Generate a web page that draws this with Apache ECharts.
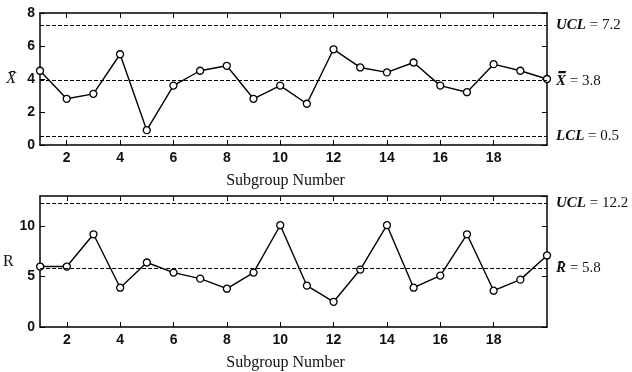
<!DOCTYPE html>
<html>
<head>
<meta charset="utf-8">
<script src="https://cdn.jsdelivr.net/npm/echarts@6/dist/echarts.min.js"></script>
<style>
  html, body { margin: 0; padding: 0; background: #fff; }
  #main { width: 632px; height: 372px; }
</style>
</head>
<body>
<div id="main"></div>
<script>
// subgroup numbers along the x axis
const subgroups = [1, 2, 3, 4, 5, 6, 7, 8, 9, 10, 11, 12, 13, 14, 15, 16, 17, 18, 19, 20];
// x-bar values per subgroup
const xbarValues = [4.5, 2.8, 3.1, 5.5, 0.9, 3.6, 4.5, 4.8, 2.8, 3.6, 2.5, 5.8, 4.7, 4.4, 5.0, 3.6, 3.2, 4.9, 4.5, 4.0];
// range values per subgroup
const rangeValues = [6.0, 6.0, 9.2, 3.9, 6.4, 5.4, 4.8, 3.8, 5.4, 10.1, 4.1, 2.5, 5.7, 10.1, 3.9, 5.1, 9.2, 3.6, 4.7, 7.1];
// control lines (as drawn) and their labels
const xbarLimitValues = [7.25, 3.9, 0.55];
const xbarLimitLabels = ['{i|UCL} = 7.2', '{i|X\u033F} = 3.8', '{i|LCL} = 0.5'];
const rangeLimitValues = [12.3, 5.8];
const rangeLimitLabels = ['{i|UCL} = 12.2', '{i|R\u0304} = 5.8'];

const chart = echarts.init(document.getElementById('main'));

const tickFont = { fontFamily: 'Liberation Sans', fontWeight: 'bold', fontSize: 14, color: '#111' };
const serif = 'Liberation Serif';

function evenTick(idx, val) {
  return Number(val) % 2 === 0 && Number(val) < 20;
}

function bottomAxis(gridIndex) {
  return {
    type: 'category',
    gridIndex: gridIndex,
    data: subgroups,
    boundaryGap: false,
    position: 'bottom',
    axisLine: { onZero: false, lineStyle: { color: '#000', width: 1.5 } },
    axisTick: { inside: true, length: 5, interval: evenTick, lineStyle: { color: '#000' } },
    axisLabel: Object.assign({ interval: evenTick, margin: 6 }, tickFont),
    splitLine: { show: false },
    name: 'Subgroup Number',
    nameLocation: 'middle',
    nameGap: 28,
    nameTextStyle: { fontFamily: serif, fontSize: 16, color: '#111', padding: [0, 16, 0, 0] }
  };
}

function topAxis(gridIndex) {
  return {
    type: 'category',
    gridIndex: gridIndex,
    data: subgroups,
    boundaryGap: false,
    position: 'top',
    axisLine: { onZero: false, lineStyle: { color: '#000', width: 1.5 } },
    axisTick: { inside: true, length: 5, interval: evenTick, lineStyle: { color: '#000' } },
    axisLabel: { show: false },
    splitLine: { show: false }
  };
}

function leftAxis(gridIndex, max, interval, name, italic, shiftDown) {
  return {
    type: 'value',
    gridIndex: gridIndex,
    min: 0,
    max: max,
    interval: interval,
    position: 'left',
    axisLine: { show: true, onZero: false, lineStyle: { color: '#000', width: 1.5 } },
    axisTick: { show: true, inside: true, length: 5, lineStyle: { color: '#000' } },
    axisLabel: Object.assign({ margin: 5, showMaxLabel: max % interval === 0 }, tickFont),
    splitLine: { show: false },
    name: name,
    nameLocation: 'middle',
    nameRotate: 0,
    nameGap: 24,
    nameTextStyle: {
      fontFamily: serif,
      fontStyle: italic ? 'italic' : 'normal',
      fontSize: 16,
      color: '#111',
      padding: [shiftDown, 0, 0, 0]
    }
  };
}

function rightAxis(gridIndex, max, interval) {
  return {
    type: 'value',
    gridIndex: gridIndex,
    min: 0,
    max: max,
    interval: interval,
    position: 'right',
    axisLine: { show: true, onZero: false, lineStyle: { color: '#000', width: 1.5 } },
    axisTick: { show: true, inside: true, length: 5, lineStyle: { color: '#000' } },
    axisLabel: { show: false },
    splitLine: { show: false }
  };
}

function limitLines(values, labels) {
  return {
    silent: true,
    symbol: 'none',
    lineStyle: { color: '#000', type: [4, 2], width: 1 },
    label: {
      position: 'end',
      distance: 9,
      fontFamily: serif,
      fontSize: 15,
      color: '#111',
      rich: { i: { fontFamily: serif, fontStyle: 'italic', fontWeight: 'bold', fontSize: 15, color: '#111' } }
    },
    data: values.map((v, i) => ({ yAxis: v, label: { formatter: labels[i] } }))
  };
}

function pointSeries(xIdx, yIdx, values, lines) {
  return {
    type: 'line',
    xAxisIndex: xIdx,
    yAxisIndex: yIdx,
    data: values,
    symbol: 'circle',
    symbolSize: 7,
    showAllSymbol: true,
    clip: false,
    lineStyle: { color: '#000', width: 1.4 },
    itemStyle: { color: '#fff', borderColor: '#000', borderWidth: 1.3 },
    markLine: lines,
    z: 3
  };
}

const option = {
  backgroundColor: '#ffffff',
  animation: false,
  grid: [
    { left: 40, right: 85, top: 13, height: 132 },
    { left: 40, right: 85, top: 196, height: 132 }
  ],
  xAxis: [bottomAxis(0), topAxis(0), bottomAxis(1), topAxis(1)],
  yAxis: [
    leftAxis(0, 8, 2, 'X\u0304', true, 0),
    rightAxis(0, 8, 2),
    leftAxis(1, 13, 5, 'R', false, 12),
    rightAxis(1, 13, 5)
  ],
  series: [
    pointSeries(0, 0, xbarValues, limitLines(xbarLimitValues, xbarLimitLabels)),
    pointSeries(2, 2, rangeValues, limitLines(rangeLimitValues, rangeLimitLabels))
  ]
};

chart.setOption(option);
</script>
</body>
</html>
